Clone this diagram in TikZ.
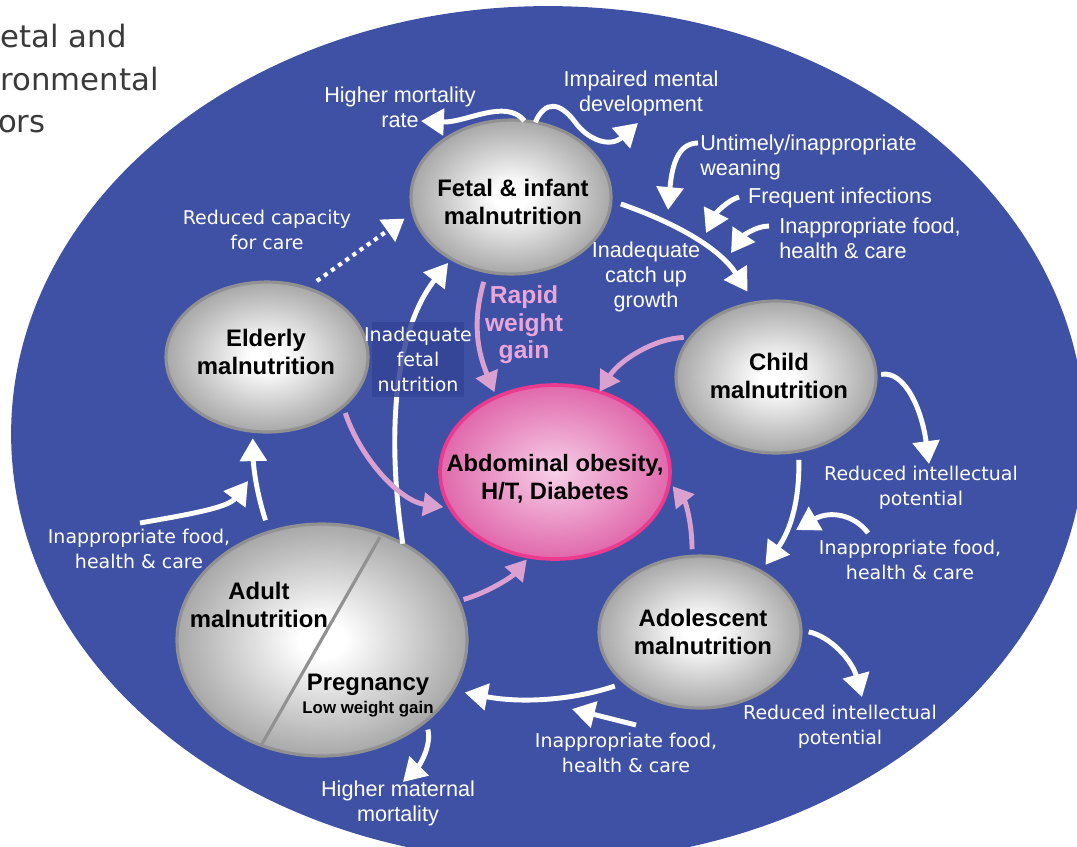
\documentclass[tikz,border=0pt]{standalone}
\usepackage{fontspec}
\setmainfont{Liberation Sans}
\newfontfamily\vfont{DejaVu Sans}
\usetikzlibrary{shapes.geometric,arrows.meta}
\definecolor{bgblue}{RGB}{63,81,165}
\definecolor{boxblue}{RGB}{52,68,150}
\definecolor{pinkarrow}{RGB}{218,160,208}
\definecolor{pinktext}{RGB}{234,166,216}
\definecolor{pinkrim}{RGB}{236,58,142}
\definecolor{pinkin}{RGB}{247,208,232}
\definecolor{pinkout}{RGB}{224,104,172}
\definecolor{ballrim}{RGB}{145,145,145}
\definecolor{ballout}{RGB}{168,168,168}
\definecolor{titlegray}{RGB}{58,58,58}
\pgfdeclareradialshading{grayball}{\pgfpoint{0bp}{0bp}}{color(0bp)=(white); color(4bp)=(white); color(25bp)=(ballout); color(50bp)=(ballout)}
\pgfdeclareradialshading{pinkball}{\pgfpoint{0bp}{0bp}}{color(0bp)=(pinkin); color(25bp)=(pinkout); color(50bp)=(pinkout)}
\tikzset{
  ball/.style={ellipse, draw=ballrim, line width=1.8pt, shade, shading=grayball, inner sep=0pt, outer sep=0pt},
  pinkballstyle/.style={ellipse, draw=pinkrim, line width=2.1pt, shade, shading=pinkball, inner sep=0pt, outer sep=0pt},
  btext/.style={inner sep=0pt, align=center, font=\bfseries\fontsize{13.6pt}{16.4pt}\selectfont},
  warrow/.style={draw=white, line width=2.8pt, -{Triangle[length=13pt,width=15pt]}},
  parrow/.style={draw=pinkarrow, line width=2.8pt, -{Triangle[length=11.5pt,width=13pt]}},
  dotarrow/.style={draw=white, line width=2.4pt, dash pattern=on 2.4pt off 2.6pt, -{Triangle[length=12pt,width=15pt]}},
  wlab/.style={text=white, align=center, inner sep=0pt, font=\fontsize{12.3pt}{14.2pt}\selectfont},
  vlab/.style={text=white, align=center, inner sep=0pt, font=\vfont\fontsize{10.8pt}{14.2pt}\selectfont},
  titletext/.style={text=titlegray, inner sep=0pt, anchor=base east, font=\vfont\fontsize{17.5pt}{20pt}\selectfont},
  rapidtext/.style={text=pinktext, align=center, inner sep=0pt, font=\bfseries\fontsize{14pt}{15.6pt}\selectfont}
}
\begin{document}
\begin{tikzpicture}[x=0.02cm,y=-0.02cm]
\useasboundingbox (0,0) rectangle (1077,846);
\fill[white] (0,0) rectangle (1077,846);
% background
\fill[bgblue] (548,434) ellipse [x radius=10.74cm, y radius=8.56cm];
% title fragments
\node[titletext] (t1) at (127,47) {etal and};
\node[titletext] (t2) at (159,90) {ronmental};
\node[titletext] (t3) at (46,132) {ors};
% balls
\node[ball, minimum width=4cm, minimum height=3.08cm] (fetal) at (511,197) {};
\node[ball, minimum width=4.04cm, minimum height=3.0cm] (elderly) at (267,357) {};
\node[ball, minimum width=5.8cm, minimum height=4.64cm] (adult) at (322,640) {};
\node[ball, minimum width=4cm, minimum height=3.04cm] (child) at (776,377) {};
\node[ball, minimum width=4.04cm, minimum height=3.04cm] (adol) at (700,632) {};
\node[pinkballstyle, minimum width=4.6cm, minimum height=3.48cm] (abd) at (555,472) {};
% ball texts
\node[btext] (fetaltxt) at (513,202) {Fetal \& infant\\malnutrition};
\node[btext] (elderlytxt) at (266,352) {Elderly\\malnutrition};
\node[btext] (childtxt) at (779,376) {Child\\malnutrition};
\node[btext] (adoltxt) at (703,632) {Adolescent\\malnutrition};
\node[btext, font=\bfseries\fontsize{13.5pt}{15.9pt}\selectfont] (abdtxt) at (555,479) {Abdominal obesity,\\H/T, Diabetes};
% adult split
\draw[ballrim, line width=1.8pt] ([shift={(58,-103)}]adult.center) -- ([shift={(-60,104)}]adult.center);
\node[btext] (adulttxt) at (259,605) {Adult\\malnutrition};
\node[btext] (pregtxt) at (368,685) {Pregnancy};
\node[btext, font=\bfseries\fontsize{9.6pt}{10pt}\selectfont] (lwg) at (368,709) {Low weight gain};
% free ends
\coordinate (hmortTip) at (421,121);
\coordinate (impTip) at (638,123);
\coordinate (weanS) at (698,143);
\coordinate (weanTip) at (668,210);
\coordinate (infS) at (739,197);
\coordinate (infTip) at (706,233);
\coordinate (foodTRS) at (769,226);
\coordinate (foodTRTip) at (731,253);
\coordinate (redTip1) at (929,464);
\coordinate (foodRS) at (868,533);
\coordinate (foodRTip) at (796,530);
\coordinate (redTip2) at (862,697);
\coordinate (foodBS) at (636,725);
\coordinate (foodBTip) at (572,709);
\coordinate (matTip) at (403,782);
\coordinate (foodLS) at (140,523);
\coordinate (foodLTip) at (248,481);
% white arrows
\draw[warrow] (fetal.80) .. controls (505,98) and (466,123) .. (hmortTip);
\draw[warrow] (fetal.72) .. controls (545,100) and (560,102) .. (575,122) .. controls (588,140) and (610,148) .. (impTip);
\draw[warrow] (weanS) .. controls (678,143) and (672,165) .. (weanTip);
\draw[warrow] (infS) .. controls (728,200) and (716,213) .. (infTip);
\draw[warrow] (foodTRS) .. controls (755,226) and (742,237) .. (foodTRTip);
\draw[warrow, shorten <=6pt, shorten >=7.5pt] (fetal.-2.6) .. controls +(69,24) and +(-34,-53) .. (child.106.6);
\draw[warrow, shorten <=5pt, shorten >=4.5pt] (child.-73.9) .. controls +(1,49) and +(30,-41) .. (adol.45.9);
\draw[warrow, shorten <=3pt] (child.1) .. controls +(29,-5) and +(-7,-54) .. (redTip1);
\draw[warrow] (foodRS) .. controls (855,515) and (830,510) .. (foodRTip);
\draw[warrow, shorten <=4.5pt] (adol.1.6) .. controls +(29,6) and +(-10,-37) .. (redTip2);
\draw[warrow, shorten <=6pt, shorten >=7pt] (adol.-146.9) .. controls +(-54,18) and +(67,13) .. (adult.-21);
\draw[warrow] (foodBS) -- (foodBTip);
\draw[warrow, shorten <=5pt] (adult.-38.1) .. controls +(6,24) and +(17,-17) .. (matTip);
\draw[warrow, shorten <=7pt, shorten >=4pt] (adult.116) .. controls +(-12,-37) and +(1,39) .. (elderly.-101.9);
\draw[warrow] (foodLS) .. controls (185,515) and (228,508) .. (foodLTip);
\draw[warrow, shorten >=3pt] (adult.50.6) .. controls +(-17,-113) and +(-56,71) .. (fetal.-134.1);
\draw[dotarrow, shorten <=7pt, shorten >=6pt] (elderly.60.1) -- (fetal.-171.6);
% pink arrows
\draw[parrow, shorten <=6pt, shorten >=3pt] (fetal.-108.2) .. controls +(-14,48) and +(-20,-48) .. (abd.128.6);
\draw[parrow, shorten <=4pt] (child.155) .. controls +(-36,1) and +(20.5,-32) .. (abd.61);
\draw[parrow, shorten <=4pt, shorten >=4pt] (elderly.-33.7) .. controls +(18,53) and +(-50,-7) .. (abd.-161.7);
\draw[parrow, shorten <=4pt, shorten >=3pt] (adol.96.9) .. controls +(0,-31) and +(17,21) .. (abd.-5.7);
\draw[parrow, shorten <=3pt, shorten >=2pt] (adult.16.6) .. controls +(27,-7.5) and +(-18,21) .. (abd.-107.5);
% box behind fetal nutrition label
\fill[boxblue, opacity=0.85] (372,322) rectangle (464,397);
% labels
\node[wlab] (hmort) at (400,107) {Higher mortality\\rate};
\node[wlab] (imp) at (641,93) {Impaired mental\\development};
\node[wlab, align=left, anchor=west] (wean) at (700,157) {Untimely/inappropriate\\weaning};
\node[wlab] (infect) at (840,198) {Frequent infections};
\node[wlab, align=left, anchor=west] (foodTR) at (779,238) {Inappropriate food,\\health \& care};
\node[wlab] (catch) at (646,277) {Inadequate\\catch up\\growth};
\node[rapidtext] (rapid) at (524,325) {Rapid\\weight\\gain};
\node[vlab] (capacity) at (267,230) {Reduced capacity\\for care};
\node[vlab] (fetnut) at (418,359) {Inadequate\\fetal\\nutrition};
\node[vlab] (foodL) at (139,549) {Inappropriate food,\\health \& care};
\node[wlab] (matmort) at (398,803) {Higher maternal\\mortality};
\node[vlab] (redint1) at (921,488) {Reduced intellectual\\potential};
\node[vlab] (foodR) at (910,560) {Inappropriate food,\\health \& care};
\node[vlab] (redint2) at (840,727) {Reduced intellectual\\potential};
\node[vlab] (foodB) at (626,753) {Inappropriate food,\\health \& care};
\end{tikzpicture}
\end{document}
